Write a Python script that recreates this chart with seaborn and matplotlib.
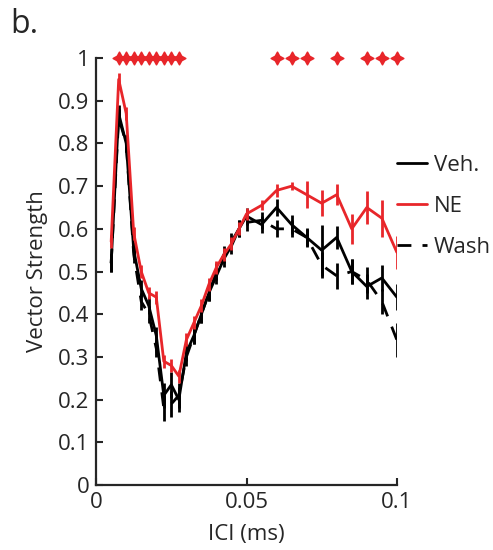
import numpy as np
import pandas as pd
import seaborn as sns
import matplotlib
matplotlib.use("Agg")
import matplotlib.pyplot as plt
from matplotlib.lines import Line2D

ici = [0.005, 0.0075, 0.01, 0.0125, 0.015, 0.0175, 0.02, 0.0225, 0.025, 0.0275,
       0.03, 0.0325, 0.035, 0.0375, 0.04, 0.0425, 0.045, 0.0475, 0.05, 0.055,
       0.06, 0.065, 0.07, 0.075, 0.08, 0.085, 0.09, 0.095, 0.1]
veh = [0.52, 0.87, 0.80, 0.55, 0.46, 0.42, 0.35, 0.21, 0.235, 0.20,
       0.31, 0.35, 0.40, 0.45, 0.49, 0.53, 0.56, 0.60, 0.63, 0.61,
       0.65, 0.61, 0.58, 0.55, 0.58, 0.50, 0.465, 0.485, 0.44]
veh_err = [0.02, 0.02, 0.02, 0.02, 0.02, 0.02, 0.02, 0.03, 0.03, 0.03,
           0.02, 0.02, 0.02, 0.02, 0.02, 0.02, 0.02, 0.02, 0.02, 0.02,
           0.02, 0.023, 0.023, 0.06, 0.027, 0.03, 0.03, 0.03, 0.03]
ne = [0.57, 0.95, 0.87, 0.59, 0.50, 0.45, 0.44, 0.29, 0.28, 0.255,
      0.34, 0.38, 0.42, 0.47, 0.51, 0.54, 0.565, 0.60, 0.635, 0.655,
      0.69, 0.70, 0.68, 0.66, 0.68, 0.60, 0.65, 0.625, 0.545]
ne_err = [0.015, 0.015, 0.015, 0.015, 0.015, 0.015, 0.015, 0.015, 0.015, 0.015,
          0.015, 0.015, 0.015, 0.015, 0.015, 0.015, 0.015, 0.015, 0.015, 0.012,
          0.016, 0.01, 0.031, 0.031, 0.025, 0.035, 0.039, 0.043, 0.039]
wash = [0.52, 0.86, 0.80, 0.54, 0.43, 0.40, 0.32, 0.18, 0.19, 0.21,
        0.30, 0.35, 0.40, 0.45, 0.50, 0.54, 0.57, 0.60, 0.615, 0.62,
        0.60, 0.60, 0.58, 0.515, 0.49, 0.50, 0.48, 0.43, 0.34]
wash_err = [0.02, 0.02, 0.02, 0.02, 0.02, 0.02, 0.02, 0.03, 0.03, 0.03,
            0.02, 0.02, 0.02, 0.02, 0.02, 0.02, 0.02, 0.02, 0.02, 0.02,
            0.02, 0.02, 0.02, 0.03, 0.03, 0.03, 0.03, 0.03, 0.04]
sig_ici = [0.0075, 0.01, 0.0125, 0.015, 0.0175, 0.02, 0.0225, 0.025, 0.0275,
           0.06, 0.065, 0.07, 0.08, 0.09, 0.095, 0.1]
y_ticks = [0, 0.1, 0.2, 0.3, 0.4, 0.5, 0.6, 0.7, 0.8, 0.9, 1]
y_tick_labels = ["0", "0.1", "0.2", "0.3", "0.4", "0.5", "0.6", "0.7", "0.8", "0.9", "1"]
x_ticks = [0, 0.05, 0.1]
x_tick_labels = ["0", "0.05", "0.1"]

sns.set_style("ticks")
plt.rcParams['font.family'] = ['Open Sans', 'DejaVu Sans']

FS = 16
fig = plt.figure(figsize=(4.93, 5.5), dpi=100)
ax = fig.add_axes([0.195, 0.118, 0.61, 0.7765])

df = pd.DataFrame({"ICI": ici * 3,
                   "VS": veh + ne + wash,
                   "cond": ["Veh."] * len(ici) + ["NE"] * len(ici) + ["Wash"] * len(ici)})
palette = {"Veh.": "black", "NE": "#e8262a", "Wash": "black"}
for cond, err, ls in [("Veh.", veh_err, "-"), ("Wash", wash_err, (0, (5, 4))), ("NE", ne_err, "-")]:
    sub = df[df.cond == cond]
    sns.lineplot(data=sub, x="ICI", y="VS", color=palette[cond], lw=2,
                 linestyle=ls, ax=ax, legend=False)
    ax.errorbar(sub.ICI, sub.VS, yerr=err, fmt="none", ecolor=palette[cond],
                elinewidth=2, capsize=0, linestyle=ls if ls == "-" else "--")

sns.scatterplot(x=sig_ici, y=[1] * len(sig_ici), marker=(4, 1, 0), s=80,
                color="#e8262a", edgecolor="#e8262a", linewidth=1.2, ax=ax,
                clip_on=False, zorder=5)

ax.set_xlim(0, 0.1)
ax.set_ylim(0, 1)
ax.set_xticks(x_ticks)
ax.set_xticklabels(x_tick_labels)
ax.set_yticks(y_ticks)
ax.set_yticklabels(y_tick_labels)
ax.tick_params(direction="in", length=5, width=1.5, labelsize=FS, pad=5)
for s in ["top", "right"]:
    ax.spines[s].set_visible(False)
for s in ["left", "bottom"]:
    ax.spines[s].set_linewidth(1.6)
ax.set_xlabel("ICI (ms)", fontsize=FS, labelpad=8)
ax.set_ylabel("Vector Strength", fontsize=FS, labelpad=7)

handles = [Line2D([], [], color="black", lw=2),
           Line2D([], [], color="#e8262a", lw=2),
           Line2D([], [], color="black", lw=2, linestyle=(0, (5, 4)))]
fig.legend(handles, ["Veh.", "NE", "Wash"], loc="upper left",
           bbox_to_anchor=(0.783, 0.738), frameon=False, fontsize=FS,
           handlelength=1.35, handletextpad=0.3, labelspacing=0.9, borderpad=0)

fig.text(0.02, 0.985, "b.", fontsize=23, va="top", ha="left")

fig.savefig("out.png", dpi=100)
